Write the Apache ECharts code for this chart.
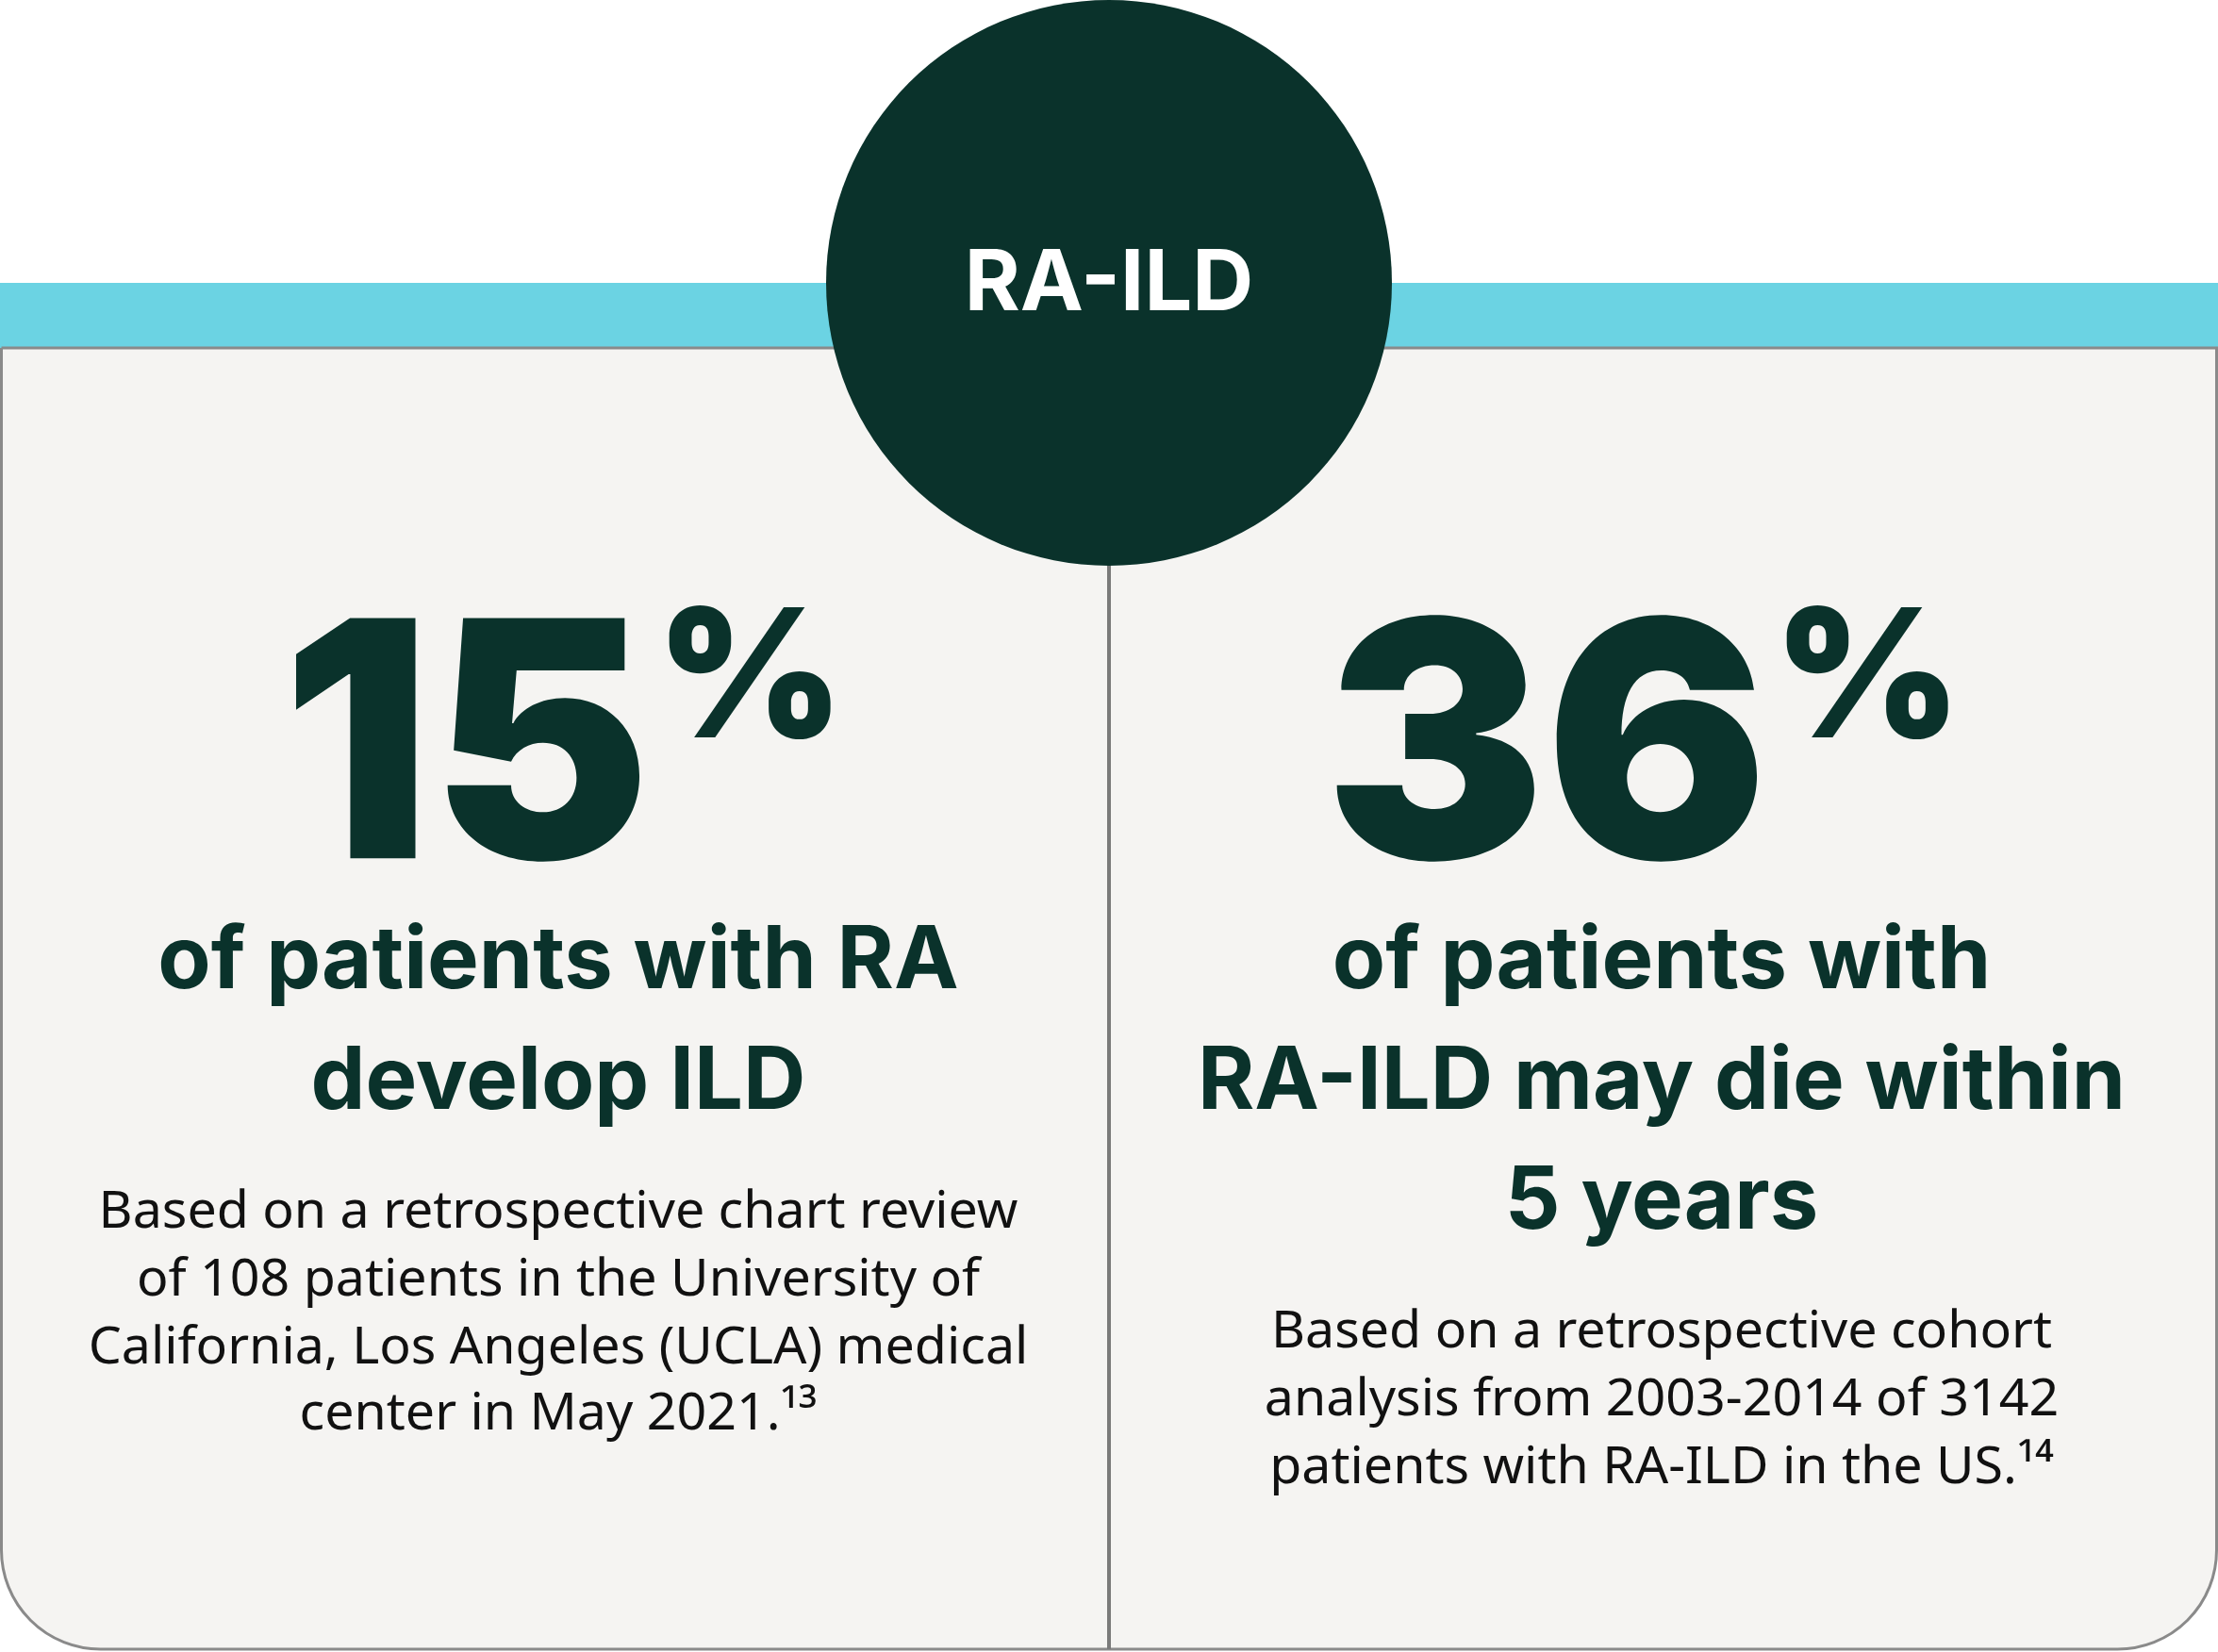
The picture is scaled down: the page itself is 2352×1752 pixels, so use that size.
<!DOCTYPE html>
<html><head><meta charset="utf-8">
<script src="https://cdn.jsdelivr.net/npm/echarts@6/dist/echarts.min.js"></script>
<style>html,body{margin:0;padding:0;background:#fff}#c{width:2352px;height:1752px}</style>
</head><body><div id="c"></div>
<script>
const title = "RA-ILD";
const statValues = ["15", "36"];
const statUnits = ["%", "%"];
const headlines = [["of patients with RA", "develop ILD"], ["of patients with", "RA-ILD may die within", "5 years"]];
const notes = [
  ["Based on a retrospective chart review", "of 108 patients in the University of", "California, Los Angeles (UCLA) medical", "center in May 2021.¹³"],
  ["Based on a retrospective cohort", "analysis from 2003-2014 of 3142", "patients with RA-ILD in the US.¹⁴"]
];
const dark = "#0A322B";
const chart = echarts.init(document.getElementById('c'));
const els = [
  {type:'rect', shape:{x:0,y:300,width:2352,height:70}, style:{fill:'#6BD3E3'}},
  {type:'rect', shape:{x:1.5,y:369,width:2349,height:1380,r:[0,0,105,105]}, style:{fill:'#F5F4F2',stroke:'#8A8A8A',lineWidth:3}},
  {type:'line', shape:{x1:1176,y1:560,x2:1176,y2:1749}, style:{stroke:'#7A7A7A',lineWidth:4}},
  {type:'circle', shape:{cx:1176,cy:300,r:300}, style:{fill:dark}},
  {type:'text', x:1176, y:302, style:{text:title,fill:'#fff',font:'bold 90px Inter',align:'center',verticalAlign:'middle'}}
];
const numRight = [690, 1875];
const centers = [592, 1762];
const headY = [[1020,1148],[1020,1148,1275]];
const noteY = [[1286,1358,1430,1500],[1413,1485,1557]];
for (let i=0;i<2;i++){
  els.push({type:'text', x:numRight[i], y:630, style:{text:statValues[i],fill:dark,font:'900 350px Inter',align:'right',verticalAlign:'top'}});
  els.push({type:'text', x:numRight[i]+6, y:630, style:{text:statUnits[i],fill:dark,font:'900 190px Inter',align:'left',verticalAlign:'top'}});
  headlines[i].forEach((t,j)=>els.push({type:'text', x:centers[i], y:headY[i][j], style:{text:t,fill:dark,font:'bold 92px Inter',align:'center',verticalAlign:'middle'}}));
  notes[i].forEach((t,j)=>els.push({type:'text', x:centers[i], y:noteY[i][j], style:{text:t,fill:'#111',font:'55.5px "Noto Sans"',align:'center',verticalAlign:'middle'}}));
}
chart.setOption({animation:false, graphic:{elements:els}});
</script></body></html>
